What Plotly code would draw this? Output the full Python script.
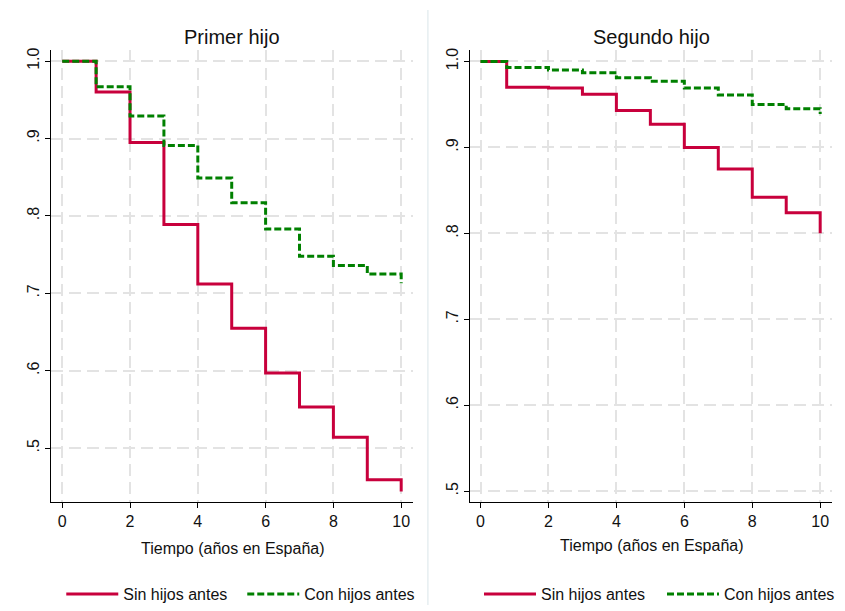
import plotly.graph_objects as go

# ---- data ----
t_primer = [0, 1, 2, 3, 4, 5, 6, 7, 8, 9, 10]
primer_sin = [1.0, 0.960, 0.895, 0.789, 0.712, 0.655, 0.597, 0.553, 0.514, 0.459, 0.444]
primer_con = [1.0, 0.967, 0.929, 0.891, 0.849, 0.817, 0.783, 0.748, 0.736, 0.725, 0.713]

t_segundo = [0, 0.77, 2, 3, 4, 5, 6, 7, 8, 9, 10]
segundo_sin = [1.0, 0.970, 0.969, 0.962, 0.943, 0.927, 0.900, 0.875, 0.842, 0.824, 0.800]
segundo_con = [1.0, 0.993, 0.990, 0.987, 0.981, 0.977, 0.969, 0.961, 0.950, 0.945, 0.939]

x_ticks = [0, 2, 4, 6, 8, 10]
y_ticks = [0.5, 0.6, 0.7, 0.8, 0.9, 1.0]
y_ticktext = [".5", ".6", ".7", ".8", ".9", "1.0"]

series_names = ["Sin hijos antes", "Con hijos antes"]
panel_titles = ["Primer hijo", "Segundo hijo"]
x_title = "Tiempo (años en España)"

RED = "#C8003C"
GREEN = "#008000"
FONT = "Liberation Sans, Arial, sans-serif"
W, H = 845, 611

fig = go.Figure()

def add_pair(t, sin, con, xa, ya, leg):
    fig.add_trace(go.Scatter(x=t, y=sin, mode="lines", line_shape="hv",
                             line=dict(color=RED, width=3), name=series_names[0],
                             xaxis=xa, yaxis=ya, legend=leg))
    fig.add_trace(go.Scatter(x=t, y=con, mode="lines", line_shape="hv",
                             line=dict(color=GREEN, width=3, dash="7px,3px"),
                             name=series_names[1], xaxis=xa, yaxis=ya, legend=leg))

add_pair(t_primer, primer_sin, primer_con, "x", "y", "legend")
add_pair(t_segundo, segundo_sin, segundo_con, "x2", "y2", "legend2")

ydom = [1 - 506 / H, 1 - 48 / H]
xdom1 = [52 / W, 418 / W]
xdom2 = [475.7 / W, 841.7 / W]

common_x = dict(tickvals=x_ticks, showline=True, linecolor="black", linewidth=1,
                ticks="outside", ticklen=5, tickcolor="black",
                showgrid=True, gridcolor="#e3e3e3", gridwidth=1.5, griddash="12px,6px",
                zeroline=False, tickfont=dict(family=FONT, size=16, color="#111"))
common_y = dict(tickvals=y_ticks, ticktext=y_ticktext, tickangle=-90,
                showline=True, linecolor="black", linewidth=1,
                ticks="outside", ticklen=5, tickcolor="black",
                showgrid=True, gridcolor="#e3e3e3", gridwidth=1.5, griddash="12px,6px",
                zeroline=False, tickfont=dict(family=FONT, size=16, color="#111"))

legend_common = dict(orientation="h", itemwidth=52, entrywidthmode="pixels",
                     font=dict(family=FONT, size=16, color="#111"),
                     bgcolor="rgba(0,0,0,0)", yanchor="middle", y=1 - 600 / H,
                     xanchor="left", traceorder="normal", tracegroupgap=0)

fig.update_layout(
    width=W, height=H,
    margin=dict(l=0, r=0, t=0, b=0),
    paper_bgcolor="white", plot_bgcolor="white",
    font=dict(family=FONT, color="#111"),
    xaxis=dict(domain=xdom1, range=[-0.32, 10.35], anchor="y", **common_x),
    yaxis=dict(domain=ydom, range=[0.431, 1.014], anchor="x", **common_y),
    xaxis2=dict(domain=xdom2, range=[-0.308, 10.34], anchor="y2", **common_x),
    yaxis2=dict(domain=ydom, range=[0.488, 1.013], anchor="x2", **common_y),
    legend=dict(x=62 / W, entrywidth=176 - 62, **legend_common),
    legend2=dict(x=485 / W, entrywidth=178 - 62, **legend_common),
    showlegend=True,
)

annotations = []
for title, cx in zip(panel_titles, [235 / W, 659 / W]):
    annotations.append(dict(text=title, x=cx, y=1 - 35 / H, xref="paper", yref="paper",
                            showarrow=False, xanchor="center", yanchor="middle",
                            font=dict(family=FONT, size=20, color="#111")))
for cx, cy in [(236 / W, 1 - 554 / H), (660 / W, 1 - 551 / H)]:
    annotations.append(dict(text=x_title, x=cx, y=cy, xref="paper", yref="paper",
                            showarrow=False, xanchor="center", yanchor="middle",
                            font=dict(family=FONT, size=16, color="#111")))
fig.update_layout(annotations=annotations)

# light separator between the two combined graphs
fig.add_shape(type="line", xref="paper", yref="paper", x0=433 / W, x1=433 / W,
              y0=0, y1=1 - 7 / H, line=dict(color="#e6eef0", width=1.5))

fig.write_html("out.html")
